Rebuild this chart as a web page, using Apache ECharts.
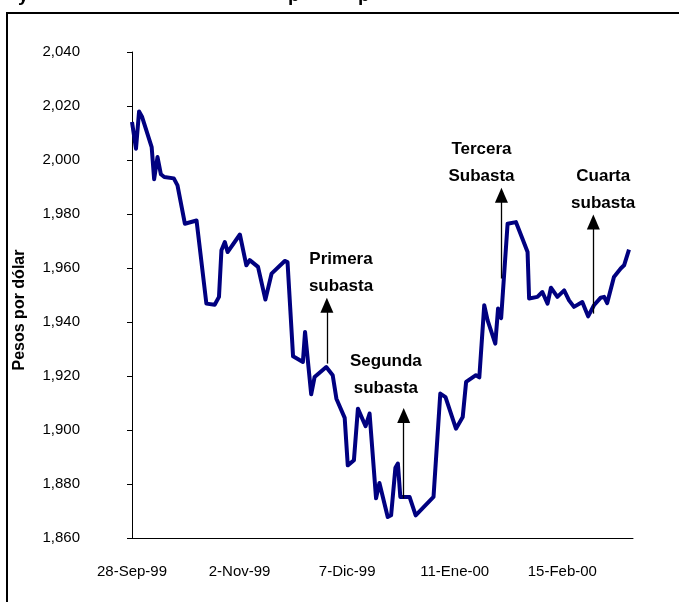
<!DOCTYPE html>
<html><head><meta charset="utf-8">
<script src="https://cdn.jsdelivr.net/npm/echarts@6/dist/echarts.min.js"></script>
<style>html,body{margin:0;padding:0;background:#fff;overflow:hidden}#c{width:679px;height:602px}</style>
</head><body><div id="c"></div><script>
// x values are days counted from 28-Sep-99
const tickLabels = ['28-Sep-99', '2-Nov-99', '7-Dic-99', '11-Ene-00', '15-Feb-00'];
const tickDays = [0, 35, 70, 105, 140];
const yTicks = [1860, 1880, 1900, 1920, 1940, 1960, 1980, 2000, 2020, 2040];

const days = [0, 1.3, 2.3, 3.3, 6.4, 7.2, 8.3, 9.4, 10.5, 13.6, 14.8, 17.2, 21.0, 24.2, 26.9, 28.3, 29.1, 30.2, 31.1, 35.1,
  37.2, 38.3, 41.0, 43.4, 45.4, 49.7, 50.6, 52.4, 55.6, 56.3, 58.3, 59.4, 63.2, 65.3, 66.5, 69.2, 70.2, 72.2, 73.5, 76.0,
  77.3, 79.4, 80.5, 83.2, 84.3, 85.7, 86.5, 87.3, 90.3, 92.3, 98.1, 100.3, 102.0, 105.4, 107.6, 108.7, 111.9, 113.0, 114.6, 115.7,
  118.2, 119.1, 120.1, 122.2, 124.9, 127.0, 128.7, 129.2, 131.9, 133.5, 135.2, 136.3, 138.4, 140.6, 142.2, 143.8, 146.5, 148.4, 150.3, 152.5,
  153.6, 154.6, 156.8, 159.0, 160.1, 161.7];
const values = [2014.1, 2004.2, 2018.0, 2015.9, 2004.8, 1992.9, 2001.1, 1994.7, 1993.7, 1993.2, 1990.6, 1976.4, 1977.6, 1946.8, 1946.4, 1949.3, 1966.6, 1969.6, 1965.9, 1972.4,
  1961.0, 1962.9, 1960.4, 1948.3, 1957.9, 1962.6, 1962.2, 1927.3, 1925.2, 1936.3, 1913.2, 1919.6, 1923.3, 1920.3, 1911.6, 1904.5, 1886.9, 1888.8, 1907.9, 1901.4,
  1906.1, 1874.7, 1880.4, 1867.8, 1868.4, 1886.0, 1887.6, 1875.2, 1875.2, 1868.4, 1875.2, 1913.5, 1912.2, 1900.5, 1904.8, 1917.8, 1920.3, 1919.5, 1946.2, 1940.6,
  1932.0, 1945.0, 1941.4, 1976.4, 1977.0, 1970.9, 1965.9, 1948.7, 1949.3, 1951.1, 1946.8, 1952.7, 1949.3, 1951.7, 1948.0, 1945.6, 1947.4, 1942.1, 1946.2, 1949.0,
  1949.3, 1947.0, 1956.7, 1959.8, 1961.0, 1966.8];

const auctionNames = ['Primera\nsubasta', 'Segunda\nsubasta', 'Tercera\nSubasta', 'Cuarta\nsubasta'];
const arrowDays = [63.4, 88.4, 120.2, 150.1];
const arrowFrom = [1924.6, 1874.7, 1956.1, 1943.1];
const arrowTo = [1946.2, 1905.4, 1986.9, 1977.0];
const textDays = [68.0, 82.6, 113.7, 153.3];
const textValues = [1958.4, 1920.3, 1998.8, 1988.8];

// letters of the title that is cut off above the picture (only their descenders show)
const titleLetters = ['y', 'p', 'p'];

const chart = echarts.init(document.getElementById('c'), null, {renderer: 'canvas'});
const font = 'Liberation Sans, Arial, sans-serif';
const titleX = [18, 288, 358];

chart.setOption({
  animation: false,
  backgroundColor: '#fff',
  grid: {left: 132, right: 46, top: 52, bottom: 64},
  xAxis: {
    type: 'value', min: 0, max: 163, interval: 35,
    axisLine: {show: true, onZero: false, lineStyle: {color: '#000', width: 1}},
    axisTick: {show: false},
    splitLine: {show: false},
    axisLabel: {
      margin: 26, color: '#000', fontFamily: font, fontSize: 15,
      formatter: v => { const i = tickDays.indexOf(v); return i >= 0 ? tickLabels[i] : ''; }
    }
  },
  yAxis: {
    type: 'value', min: yTicks[0], max: yTicks[yTicks.length - 1], interval: 20,
    axisLine: {show: true, lineStyle: {color: '#000', width: 1}},
    axisTick: {show: true, inside: false, length: 5, lineStyle: {color: '#000'}},
    splitLine: {show: false},
    axisLabel: {
      margin: 52, align: 'right', color: '#000', fontFamily: font, fontSize: 15,
      formatter: v => v.toLocaleString('en-US')
    }
  },
  series: [{
    type: 'line',
    data: days.map((d, i) => [d, values[i]]),
    showSymbol: false, symbol: 'none',
    lineStyle: {color: '#000080', width: 4, join: 'round'},
    markLine: {
      silent: true, animation: false,
      symbol: ['none', 'triangle'], symbolSize: [13, 15],
      label: {show: false},
      lineStyle: {color: '#000', width: 1.3, type: 'solid'},
      data: arrowDays.map((d, i) => [{coord: [d, arrowFrom[i]]}, {coord: [d, arrowTo[i]]}])
    },
    markPoint: {
      silent: true, animation: false,
      symbol: 'rect', symbolSize: 1,
      itemStyle: {color: 'rgba(0,0,0,0)'},
      label: {show: true, position: 'inside', color: '#000', fontFamily: font, fontWeight: 'bold',
        fontSize: 17, lineHeight: 27, align: 'center', verticalAlign: 'middle', formatter: p => p.name},
      data: textDays.map((d, i) => ({name: auctionNames[i], coord: [d, textValues[i]]}))
    }
  }],
  graphic: [
    {type: 'rect', silent: true, shape: {x: 7, y: 13, width: 700, height: 620},
      style: {fill: 'none', stroke: '#000', lineWidth: 2}},
    {type: 'text', silent: true, x: 20, y: 310, rotation: Math.PI / 2,
      style: {text: 'Pesos por dólar', fill: '#000', font: 'bold 16px ' + font, align: 'center', verticalAlign: 'middle'}}
  ].concat(titleLetters.map((t, i) => ({
    type: 'text', silent: true, x: titleX[i], y: 5,
    style: {text: t, fill: '#000', font: 'bold 19px ' + font, align: 'left', verticalAlign: 'bottom'}
  })))
});
</script></body></html>
